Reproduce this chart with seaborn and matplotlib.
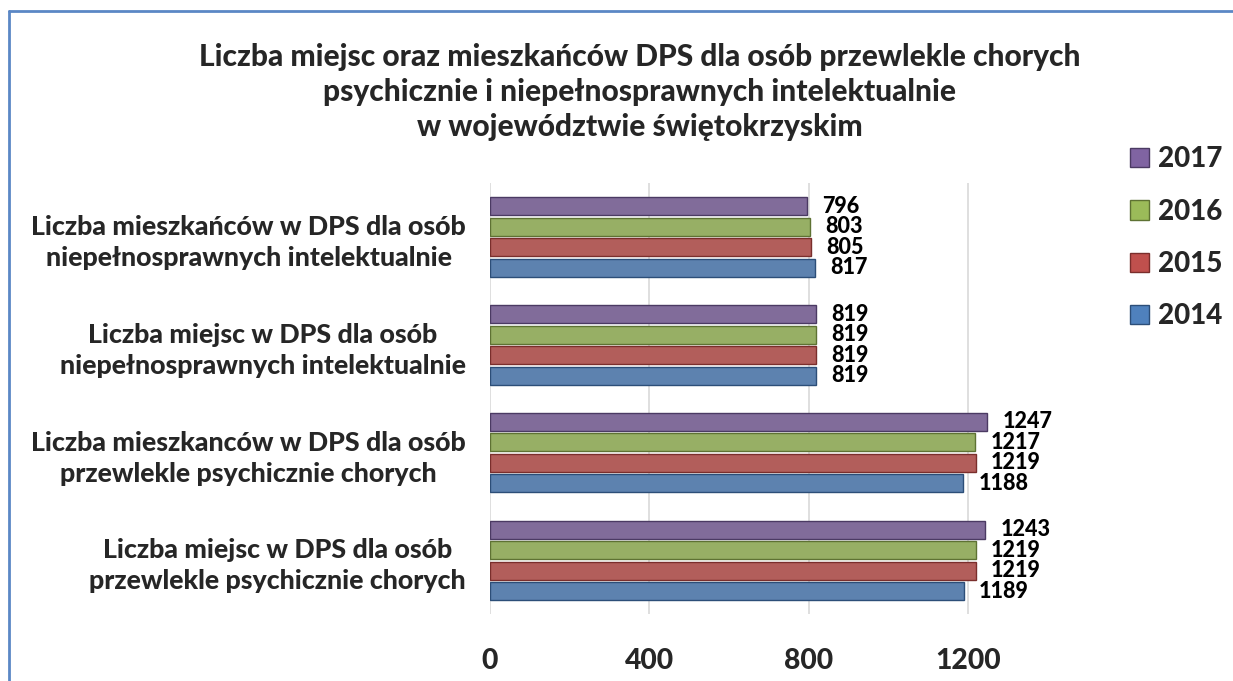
import pandas as pd
import matplotlib.pyplot as plt
import seaborn as sns
from matplotlib.lines import Line2D

categories = [
    "Liczba mieszkańców w DPS dla osób\nniepełnosprawnych intelektualnie",
    "Liczba miejsc w DPS dla osób\nniepełnosprawnych intelektualnie",
    "Liczba mieszkanców w DPS dla osób\nprzewlekle psychicznie chorych",
    "Liczba miejsc w DPS dla osób\nprzewlekle psychicznie chorych",
]
years = ["2017", "2016", "2015", "2014"]
values_2017 = [796, 819, 1247, 1243]
values_2016 = [803, 819, 1217, 1219]
values_2015 = [805, 819, 1219, 1219]
values_2014 = [817, 819, 1188, 1189]
year_colors = ["#8064A2", "#9BBB59", "#C0504D", "#4F81BD"]
edge_colors = ["#4B3A63", "#5E7233", "#7A2E2C", "#2C4E78"]
x_ticks = [0, 400, 800, 1200]

title = ("Liczba miejsc oraz mieszkańców DPS dla osób przewlekle chorych\n"
         "psychicznie i niepełnosprawnych intelektualnie\n"
         "w województwie świętokrzyskim")

W = 900  # heavy weight, closer to the Calibri bold of the original


def build_frame():
    series = {"2017": values_2017, "2016": values_2016,
              "2015": values_2015, "2014": values_2014}
    rows = []
    for year, vals in series.items():
        for cat, v in zip(categories, vals):
            rows.append({"kategoria": cat, "rok": year, "liczba": v})
    return pd.DataFrame(rows)


def main():
    sns.set_theme(style="white")
    plt.rcParams["font.family"] = ["Lato", "DejaVu Sans"]

    df = build_frame()
    fig = plt.figure(figsize=(12.33, 6.81), dpi=100)
    ax = fig.add_axes([0.397, 0.098, 0.453, 0.633])

    sns.barplot(data=df, x="liczba", y="kategoria", hue="rok",
                order=categories, hue_order=years, palette=year_colors,
                orient="h", width=0.76, gap=0.12, ax=ax, legend=False)

    # darker outline per year, gives a bit of the bevel look
    for cont, ec in zip(ax.containers, edge_colors):
        for bar in cont:
            bar.set_edgecolor(ec)
            bar.set_linewidth(1.0)
        ax.bar_label(cont, padding=11, fontsize=15.5, fontweight=W,
                     color="black")

    ax.set_xlim(0, 1400)
    ax.set_xticks(x_ticks)
    ax.set_xticklabels([str(t) for t in x_ticks], fontsize=20.3,
                       fontweight=W)
    ax.set_xlabel("")
    ax.set_ylabel("")
    ax.tick_params(axis="x", length=6, color="#D9D9D9", pad=18)
    ax.tick_params(axis="y", length=0, pad=17)
    for lbl in ax.get_yticklabels():
        lbl.set_fontsize(19.3)
        lbl.set_fontweight(W)
        lbl.set_multialignment("center")
        lbl.set_linespacing(1.35)
    ax.grid(axis="x", color="#D9D9D9", linewidth=1.2)
    ax.set_axisbelow(True)
    for s in ax.spines.values():
        s.set_visible(False)

    fig.text(0.519, 0.865, title, ha="center", va="center", fontsize=21.5,
             fontweight=W, linespacing=1.3)

    handles = [plt.Rectangle((0, 0), 1, 1, facecolor=c, edgecolor=e)
               for c, e in zip(year_colors, edge_colors)]
    fig.legend(handles, years, loc="upper left",
               bbox_to_anchor=(0.896, 0.822), frameon=False,
               handlelength=0.7, handleheight=0.7, handletextpad=0.3,
               labelspacing=0.95, prop={"size": 20, "weight": W})

    # blue frame around the chart area (top and left edges visible)
    fig.add_artist(Line2D([9 / 1233, 1], [1 - 11 / 681, 1 - 11 / 681],
                          color="#5B87C5", linewidth=2,
                          transform=fig.transFigure))
    fig.add_artist(Line2D([9 / 1233, 9 / 1233], [0, 1 - 11 / 681],
                          color="#5B87C5", linewidth=2,
                          transform=fig.transFigure))

    plt.savefig("out.png", dpi=100)
    plt.close()


if __name__ == "__main__":
    main()
